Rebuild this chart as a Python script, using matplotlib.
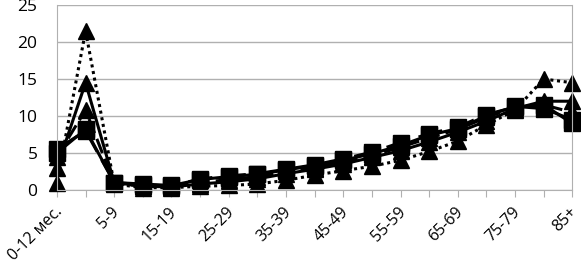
import matplotlib
matplotlib.use("Agg")
import matplotlib.pyplot as plt
import matplotlib.transforms as mtransforms

# age groups (every second one is labelled on the axis)
ages = ["0-12 мес.", "1-4", "5-9", "10-14", "15-19", "20-24", "25-29",
        "30-34", "35-39", "40-44", "45-49", "50-54", "55-59", "60-64",
        "65-69", "70-74", "75-79", "80-84", "85+"]

# series
tri_dotted = [1.0, 21.5, 0.8, 0.3, 0.3, 0.5, 0.6, 0.8, 1.3, 2.0, 2.6,
              3.2, 4.0, 5.2, 6.6, 8.8, 10.8, 15.0, 14.5]
tri_solid = [3.0, 14.5, 1.0, 0.5, 0.4, 0.8, 1.1, 1.5, 2.2, 2.8, 3.5,
             4.4, 5.3, 6.5, 7.8, 9.3, 11.0, 12.0, 12.0]
tri_dashed = [4.5, 10.8, 0.9, 0.5, 0.5, 1.0, 1.4, 1.8, 2.5, 3.0, 3.8,
              4.6, 5.8, 7.0, 8.2, 9.8, 11.2, 11.5, 10.5]
sq_dashed = [5.5, 8.0, 1.0, 0.7, 0.5, 1.5, 1.9, 2.2, 2.8, 3.4, 4.2,
             5.1, 6.4, 7.6, 8.5, 10.2, 11.2, 11.5, 9.0]
sq_solid = [5.0, 8.2, 1.0, 0.8, 0.6, 1.4, 1.8, 2.1, 2.7, 3.3, 4.0,
            4.9, 6.0, 7.4, 8.3, 10.0, 11.3, 11.0, 9.5]

plt.rcParams['font.family'] = ['Open Sans', 'DejaVu Sans']

fig = plt.figure(figsize=(5.81, 2.69), dpi=100)
ax = fig.add_axes([0.098, 0.294, 0.887, 0.687])

x = list(range(len(ages)))
styles = [
    (tri_dotted, "^", (0, (1, 1.2))),
    (tri_solid, "^", "-"),
    (tri_dashed, "^", (0, (5, 2))),
    (sq_dashed, "s", (0, (8, 3))),
    (sq_solid, "s", "-"),
]
for vals, mk, ls in styles:
    ax.plot(x, vals, color="black", linestyle=ls, linewidth=2.2,
            marker=mk, markersize=11, markeredgecolor="black", clip_on=False)

ax.set_xlim(0, len(ages) - 1)
ax.set_ylim(0, 25)
ax.set_yticks(range(0, 26, 5))
ax.set_xticks(x)
ax.set_xticklabels([])

# rotated category labels, every second one, ending under their ticks
lbl_trans = ax.get_xaxis_transform() + mtransforms.ScaledTranslation(
    -2 / 72, -10 / 72, fig.dpi_scale_trans)
for i, a in enumerate(ages):
    if i % 2 == 0:
        ax.text(i, 0, a, transform=lbl_trans, rotation=45, ha="right",
                va="top", rotation_mode="anchor", fontsize=11.5)

ax.grid(axis="y", color="#b0b0b0", linewidth=1)
ax.set_axisbelow(True)
for s in ax.spines.values():
    s.set_color("#b0b0b0")
ax.spines["top"].set_visible(False)
ax.tick_params(axis="x", length=5, color="#b0b0b0")
ax.tick_params(axis="y", length=0, labelsize=12.5, pad=14)

fig.savefig("out.png", dpi=100)
